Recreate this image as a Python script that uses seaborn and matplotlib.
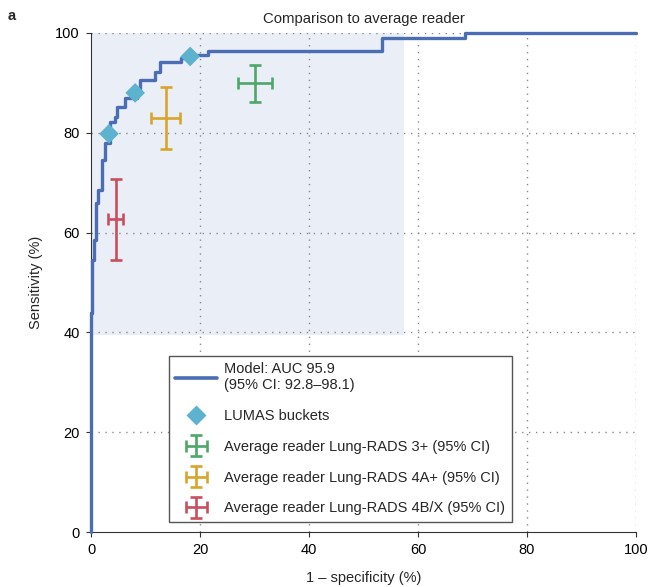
import matplotlib
matplotlib.use("Agg")
import matplotlib.pyplot as plt
import seaborn as sns
import pandas as pd
from matplotlib.lines import Line2D
from matplotlib.legend_handler import HandlerErrorbar
from matplotlib.container import ErrorbarContainer

# ---- data ----
roc_fpr = [0, 0, 0.25, 0.25, 0.55, 0.55, 0.9, 0.9, 1.35, 1.35, 1.95, 1.95, 2.6, 2.6,
           3.5, 3.5, 4.4, 4.4, 4.7, 4.7, 6.2, 6.2, 8.5, 8.5, 9.0, 9.0, 11.7, 11.7,
           12.6, 12.6, 16.6, 16.6, 18.6, 18.6, 21.5, 21.5, 53.4, 53.4, 68.7, 68.7, 100]
roc_tpr = [0, 43.9, 43.9, 54.5, 54.5, 58.5, 58.5, 66.0, 66.0, 68.5, 68.5, 74.5, 74.5, 78.0,
           78.0, 82.2, 82.2, 83.2, 83.2, 85.2, 85.2, 86.9, 86.9, 88.0, 88.0, 90.6, 90.6, 92.2,
           92.2, 94.2, 94.2, 95.0, 95.0, 95.6, 95.6, 96.4, 96.4, 98.9, 98.9, 100, 100]

bucket_fpr = [3.3, 8.1, 18.2]
bucket_tpr = [79.8, 88.0, 95.3]

reader_labels = ["Average reader Lung-RADS 3+ (95% CI)",
                 "Average reader Lung-RADS 4A+ (95% CI)",
                 "Average reader Lung-RADS 4B/X (95% CI)"]
reader_fpr = [30.1, 13.8, 4.5]
reader_fpr_lo = [27.0, 11.1, 3.2]
reader_fpr_hi = [33.3, 16.3, 5.9]
reader_tpr = [90.0, 83.0, 62.7]
reader_tpr_lo = [86.1, 76.7, 54.6]
reader_tpr_hi = [93.6, 89.1, 70.7]
reader_colors = ["#4ea669", "#d9a42c", "#c94f5e"]

model_label = "Model: AUC 95.9\n(95% CI: 92.8–98.1)"
bucket_label = "LUMAS buckets"

# ---- style ----
sns.set_theme(style="ticks")
plt.rcParams["font.family"] = ["Liberation Sans", "DejaVu Sans"]
plt.rcParams["font.size"] = 10.5

FS = 10.5
fig = plt.figure(figsize=(6.52, 5.87), dpi=100)
ax = fig.add_axes([91/652, 1 - 532/587, 545/652, 499/587])

# shaded region
ax.fill_between([0, 57.5], 39.5, 100, color="#eaeef6", zorder=0, linewidth=0)

# grid
for v in [20, 40, 60, 80, 100]:
    ax.axvline(v, color="#8a8a8a", linestyle=(0, (1, 4)), linewidth=1.0, zorder=1)
    ax.axhline(v, color="#8a8a8a", linestyle=(0, (1, 4)), linewidth=1.0, zorder=1)

roc_df = pd.DataFrame({"fpr": roc_fpr, "tpr": roc_tpr})
sns.lineplot(data=roc_df, x="fpr", y="tpr", sort=False, estimator=None, ax=ax,
             color="#4a6db3", linewidth=2.4, zorder=3, clip_on=False)

bdf = pd.DataFrame({"fpr": bucket_fpr, "tpr": bucket_tpr})
sns.scatterplot(data=bdf, x="fpr", y="tpr", marker="D", s=100, color="#5db2cd",
                edgecolor="none", ax=ax, zorder=4)

eb_handles = []
for i in range(3):
    xerr = [[reader_fpr[i] - reader_fpr_lo[i]], [reader_fpr_hi[i] - reader_fpr[i]]]
    yerr = [[reader_tpr[i] - reader_tpr_lo[i]], [reader_tpr_hi[i] - reader_tpr[i]]]
    h = ax.errorbar([reader_fpr[i]], [reader_tpr[i]], xerr=xerr, yerr=yerr, fmt="none",
                    ecolor=reader_colors[i], elinewidth=1.9, capsize=4.0, capthick=1.9,
                    zorder=4)
    eb_handles.append(h)

ax.set_xlim(0, 100)
ax.set_ylim(0, 100)
ax.set_xticks([0, 20, 40, 60, 80, 100])
ax.set_yticks([0, 20, 40, 60, 80, 100])
ax.set_xlabel("1 – specificity (%)", fontsize=FS, labelpad=10)
ax.set_ylabel("Sensitivity (%)", fontsize=FS, labelpad=9)
ax.set_title("Comparison to average reader", fontsize=10.7, pad=7)
ax.tick_params(direction="out", length=3.5, width=0.8, pad=4.5, colors="#333333",
               labelsize=FS, labelcolor="black")
for s in ["top", "right"]:
    ax.spines[s].set_visible(False)
for s in ["left", "bottom"]:
    ax.spines[s].set_color("#333333")
    ax.spines[s].set_linewidth(0.8)

line_h = Line2D([], [], color="#4a6db3", linewidth=2.6)
dia_h = Line2D([], [], marker="D", linestyle="none", markersize=10,
               color="#5db2cd", markeredgecolor="none")
leg = ax.legend([line_h, dia_h] + eb_handles, [model_label, bucket_label] + reader_labels,
                loc="lower left", bbox_to_anchor=(0.143, 0.02), frameon=True,
                fancybox=False, edgecolor="#555555", fontsize=FS, handlelength=2.85,
                borderpad=0.45, labelspacing=1.15, handletextpad=0.5, borderaxespad=0,
                framealpha=1,
                handler_map={ErrorbarContainer: HandlerErrorbar(xerr_size=0.72, yerr_size=0.72)})
leg.get_frame().set_linewidth(1.0)

fig.text(0.012, 0.985, "a", fontweight="bold", fontsize=10.5, va="top", ha="left")

fig.savefig("out.png", dpi=100)
